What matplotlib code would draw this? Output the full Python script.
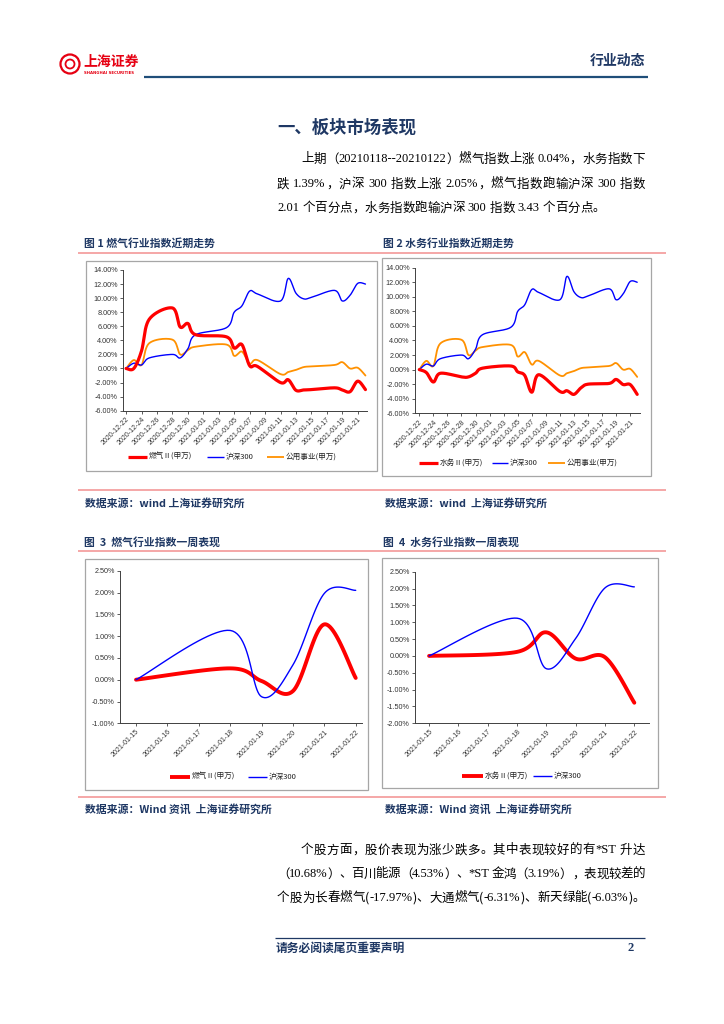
import re
import numpy as np
import pandas as pd
import matplotlib
matplotlib.use('Agg')
import matplotlib.pyplot as plt
from matplotlib.patches import Rectangle, Circle

plt.rcParams['font.family'] = ['Noto Sans CJK SC', 'DejaVu Sans']
CJK = ['Noto Sans CJK SC', 'DejaVu Sans']

# ---------------- data ----------------
month_dates = ['2020-12-22', '2020-12-23', '2020-12-24', '2020-12-25', '2020-12-28',
               '2020-12-29', '2020-12-30', '2020-12-31', '2021-01-04', '2021-01-05',
               '2021-01-06', '2021-01-07', '2021-01-08', '2021-01-11', '2021-01-12',
               '2021-01-13', '2021-01-14', '2021-01-15', '2021-01-18', '2021-01-19',
               '2021-01-20', '2021-01-21', '2021-01-22']
gas_month = [0.0, 0.0, 2.5, 7.0, 8.6, 5.9, 6.4, 4.8, 4.5, 2.9, 3.4, 0.4, 0.3,
             -2.0, -1.6, -3.1, -3.05, -3.0, -2.75, -3.05, -3.3, -1.8, -3.0]
water_month = [0.0, -0.4, -1.7, -0.5, -1.0, -1.0, -0.5, 0.2, 0.5, -0.3, -0.8, -3.1, -0.7,
               -3.0, -2.9, -3.4, -2.5, -2.0, -1.9, -1.35, -2.05, -2.05, -3.4]
hs300_month = [0.0, 0.75, 0.5, 1.5, 2.0, 1.5, 2.8, 4.8, 5.8, 8.0, 8.9, 11.0, 10.6,
               9.6, 12.8, 10.7, 9.9, 10.1, 11.1, 9.6, 10.4, 12.1, 12.0]
utility_month = [0.0, 1.2, 0.5, 3.6, 4.1, 2.0, 2.6, 3.1, 3.4, 1.8, 2.4, 0.7, 1.2,
                 -0.8, -0.5, -0.2, 0.2, 0.3, 0.5, 0.9, 0.0, 0.1, -1.0]
month_ticks = ['2020-12-22', '2020-12-24', '2020-12-26', '2020-12-28', '2020-12-30',
               '2021-01-01', '2021-01-03', '2021-01-05', '2021-01-07', '2021-01-09',
               '2021-01-11', '2021-01-13', '2021-01-15', '2021-01-17', '2021-01-19',
               '2021-01-21']

week_dates = ['2021-01-15', '2021-01-18', '2021-01-19', '2021-01-20', '2021-01-21', '2021-01-22']
gas_week = [0.0, 0.26, -0.03, -0.26, 1.27, 0.04]
hs300_week_fig3 = [0.0, 1.13, -0.39, 0.34, 1.98, 2.05]
water_week = [0.0, 0.12, 0.70, -0.08, -0.04, -1.39]
hs300_week_fig4 = [0.0, 1.12, -0.38, 0.52, 2.02, 2.05]
week_ticks = ['2021-01-15', '2021-01-16', '2021-01-17', '2021-01-18', '2021-01-19',
              '2021-01-20', '2021-01-21', '2021-01-22']

legend_gas = '燃气Ⅱ(申万)'
legend_water = '水务Ⅱ(申万)'
legend_hs = '沪深300'
legend_util = '公用事业(申万)'

RED = '#FF0000'
BLUE = '#0000FF'
ORANGE = '#FF9100'
NAVY = '#1F3864'
PINK = '#F4A0A0'
FRAME = '#A6A6A6'

W, H = 724, 1024
fig = plt.figure(figsize=(W / 100, H / 100), dpi=100)
page = fig.add_axes([0, 0, 1, 1])
page.set_xlim(0, W)
page.set_ylim(H, 0)
page.axis('off')
renderer = fig.canvas.get_renderer()


def days(dlist, origin):
    d = pd.to_datetime(pd.Series(dlist))
    return ((d - pd.Timestamp(origin)).dt.days).to_numpy(dtype=float)


def smooth(x, y, sx, sy, n=24):
    P = np.column_stack([np.asarray(x, float) * sx, np.asarray(y, float) * sy])
    m = len(P)
    out = [P[0]]
    t = np.linspace(0, 1, n)[1:, None]
    for i in range(m - 1):
        p0 = P[i - 1] if i > 0 else P[i]
        p1, p2 = P[i], P[i + 1]
        p3 = P[i + 2] if i + 2 < m else P[i + 1]
        c1 = p1 + (p2 - p0) / 6.0
        c2 = p2 - (p3 - p1) / 6.0
        seg = (1 - t) ** 3 * p1 + 3 * (1 - t) ** 2 * t * c1 + 3 * (1 - t) * t ** 2 * c2 + t ** 3 * p2
        out.extend(seg)
    out = np.array(out)
    return out[:, 0] / sx, out[:, 1] / sy


def chart(left, right, top, bottom, xlim, ylim, ystep, tick_pos, tick_labels, series):
    ax = fig.add_axes([left / W, 1 - bottom / H, (right - left) / W, (bottom - top) / H])
    ax.patch.set_alpha(0)
    ax.set_xlim(*xlim)
    ax.set_ylim(*ylim)
    sx = (right - left) / (xlim[1] - xlim[0])
    sy = (bottom - top) / (ylim[1] - ylim[0])
    for xd, yd, color, lw in series:
        xs, ys = smooth(xd, yd, sx, sy)
        ax.plot(xs, ys, color=color, lw=lw, solid_capstyle='round', solid_joinstyle='round',
                clip_on=False)
    for s in ['top', 'right']:
        ax.spines[s].set_visible(False)
    for s in ['left', 'bottom']:
        ax.spines[s].set_color('#404040')
        ax.spines[s].set_linewidth(0.7)
    yt = np.arange(ylim[0], ylim[1] + ystep / 2, ystep)
    ax.set_yticks(yt)
    ax.set_yticklabels([f'{v:.2f}%' for v in yt], family='Liberation Sans', fontsize=5.2,
                       color='#333333')
    ax.set_xticks(tick_pos)
    ax.set_xticklabels(tick_labels, family='Liberation Sans', fontsize=5.0, color='#333333',
                       rotation=45, ha='right', rotation_mode='anchor')
    ax.tick_params(axis='both', direction='out', length=2.2, width=0.6, color='#404040', pad=1.5)
    return ax


# ---------------- page furniture ----------------
def hline(y, x0, x1, color, lw):
    page.plot([x0, x1], [y, y], color=color, lw=lw, solid_capstyle='butt')


# header logo
page.add_patch(Circle((70, 64), 9.5, fill=False, ec='#E60012', lw=1.6))
page.add_patch(Circle((70, 64), 4.5, fill=False, ec='#E60012', lw=1.3))
page.text(83, 62, '上海证券', color='#E60012', fontsize=10, fontweight='bold', va='center',
          ha='left', family=CJK)
page.text(84, 73.5, 'SHANGHAI SECURITIES', color='#E60012', fontsize=2.8, va='center',
          ha='left', family='DejaVu Sans', fontweight='bold')
page.text(645, 61, '行业动态', color=NAVY, fontsize=10, fontweight='bold', ha='right',
          va='center', family=CJK)
hline(77, 144, 648, '#1F4E79', 1.6)

page.text(277, 128, '一、板块市场表现', color=NAVY, fontsize=12.5, fontweight='bold',
          ha='left', va='center', family=CJK)


def para_line(s, x0, x1, y, fs=9.0, justify=True):
    toks = re.findall(r'[A-Za-z0-9.%*\-+]+| |.', s)
    fs_px = fs * 100 / 72
    widths = []
    for tk in toks:
        if tk == ' ':
            widths.append(0.25 * fs_px)
            continue
        fam = 'Liberation Serif' if re.match(r'[A-Za-z0-9.%*\-+]', tk) else CJK
        t = page.text(0, 0, tk, fontsize=fs, family=fam)
        widths.append(t.get_window_extent(renderer).width)
        t.remove()
    total = sum(widths)
    gap = (x1 - x0 - total) / (len(toks) - 1) if justify else 0.0
    x = x0
    for tk, w in zip(toks, widths):
        if tk != ' ':
            fam = 'Liberation Serif' if re.match(r'[A-Za-z0-9.%*\-+]', tk) else CJK
            page.text(x, y, tk, fontsize=fs, family=fam, ha='left', va='center', color='black')
        x += w + gap


para_line('上期（20210118--20210122）燃气指数上涨 0.04%，水务指数下', 301, 645, 159)
para_line('跌 1.39%，沪深 300 指数上涨 2.05%，燃气指数跑输沪深 300 指数', 277, 645, 184)
para_line('2.01 个百分点，水务指数跑输沪深 300 指数 3.43 个百分点。', 277, 645, 208, justify=False)

para_line('个股方面，股价表现为涨少跌多。其中表现较好的有*ST 升达', 301, 645, 850)
para_line('（10.68%）、百川能源（4.53%）、*ST 金鸿（3.19%），表现较差的', 277, 645, 874)
para_line('个股为长春燃气(-17.97%)、大通燃气(-6.31%)、新天绿能(-6.03%)。', 277, 645, 898)

# captions and source notes
cap_kw = dict(color=NAVY, fontsize=7.8, fontweight='bold', ha='left', va='center', family=CJK)
page.text(84, 243, '图 1 燃气行业指数近期走势', **cap_kw)
page.text(383, 243, '图 2 水务行业指数近期走势', **cap_kw)
page.text(84, 542, '图  3  燃气行业指数一周表现', **cap_kw)
page.text(383, 542, '图  4  水务行业指数一周表现', **cap_kw)
src_kw = dict(color=NAVY, fontsize=7.8, fontweight='bold', ha='left', va='center', family=CJK)
page.text(85, 503, '数据来源：wind 上海证券研究所', **src_kw)
page.text(385, 503, '数据来源：wind  上海证券研究所', **src_kw)
page.text(85, 809, '数据来源：Wind 资讯  上海证券研究所', **src_kw)
page.text(385, 809, '数据来源：Wind 资讯  上海证券研究所', **src_kw)

for yy in [253, 490, 551, 797]:
    hline(yy, 78, 666, PINK, 1.3)

# chart frames
for (x0, y0, x1, y1) in [(86, 261, 377, 471), (382, 258, 651, 476),
                         (85, 559, 368, 790), (382, 558, 658, 788)]:
    page.add_patch(Rectangle((x0, y0), x1 - x0, y1 - y0, fill=False, ec=FRAME, lw=0.9))

# footer
hline(938, 275, 645, '#1F3864', 0.9)
page.text(276, 948, '请务必阅读尾页重要声明', color=NAVY, fontsize=8.5, fontweight='bold',
          ha='left', va='center', family=CJK)
page.text(634, 948, '2', color=NAVY, fontsize=9, fontweight='bold', ha='right', va='center',
          family='Liberation Serif')


def legend(items, y):
    for x0, x1, color, lw, label in items:
        page.plot([x0, x1], [y, y], color=color, lw=lw, solid_capstyle='butt')
        page.text(x1 + 1.5, y, label, fontsize=5.5, family=CJK, ha='left', va='center',
                  color='#222222')


# ---------------- charts ----------------
m_origin = month_dates[0]
mx = days(month_dates, m_origin)
mt = days(month_ticks, m_origin)

chart(123, 367, 270, 410.7, (-0.4, 31.2), (-6, 14), 2, mt, month_ticks,
      [(mx, utility_month, ORANGE, 1.3), (mx, hs300_month, BLUE, 1.0),
       (mx, gas_month, RED, 2.3)])
legend([(128, 147, RED, 2.3, legend_gas), (207, 224, BLUE, 1.0, legend_hs),
        (267, 284, ORANGE, 1.3, legend_util)], 457)

chart(415, 640, 267.7, 413.3, (-0.61, 31.4), (-6, 14), 2, mt, month_ticks,
      [(mx, utility_month, ORANGE, 1.3), (mx, hs300_month, BLUE, 1.0),
       (mx, water_month, RED, 2.3)])
legend([(419, 438, RED, 2.3, legend_water), (492, 508, BLUE, 1.0, legend_hs),
        (548, 565, ORANGE, 1.3, legend_util)], 463)

w_origin = week_dates[0]
wx = days(week_dates, w_origin)
wt = days(week_ticks, w_origin)

chart(120, 362, 570.7, 723.3, (-0.51, 7.2), (-1.0, 2.5), 0.5, wt, week_ticks,
      [(wx, gas_week, RED, 2.8), (wx, hs300_week_fig3, BLUE, 1.0)])
legend([(170, 190, RED, 2.8, legend_gas), (248, 267, BLUE, 1.0, legend_hs)], 777)

chart(415, 649, 571.7, 723.3, (-0.48, 7.5), (-2.0, 2.5), 0.5, wt, week_ticks,
      [(wx, water_week, RED, 2.8), (wx, hs300_week_fig4, BLUE, 1.0)])
legend([(462, 483, RED, 2.8, legend_water), (533, 552, BLUE, 1.0, legend_hs)], 776)

fig.savefig('out.png', dpi=100)
